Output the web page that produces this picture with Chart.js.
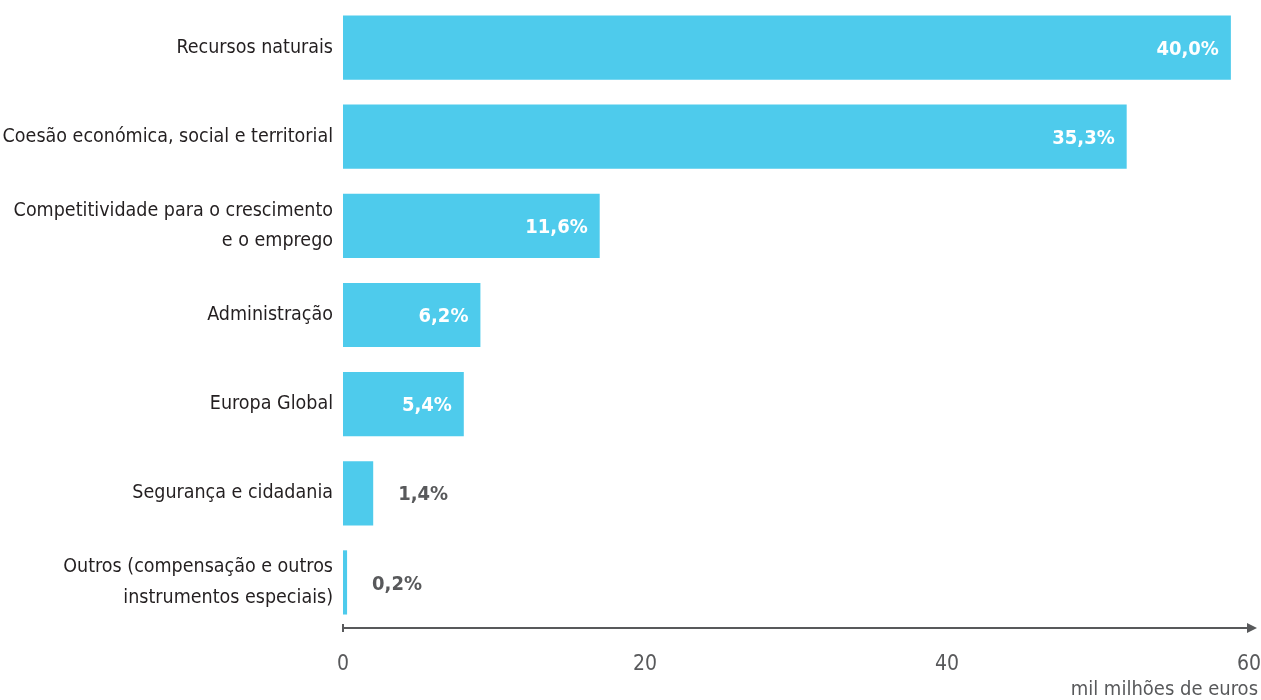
<!DOCTYPE html>
<html>
<head>
<meta charset="utf-8">
<script src="https://cdn.jsdelivr.net/npm/chart.js@4.4.1/dist/chart.umd.min.js"></script>
<style>
html,body{margin:0;padding:0;background:#fff;}
#wrap{width:1261px;height:700px;position:relative;}
</style>
</head>
<body>
<div id="wrap"><canvas id="c"></canvas></div>
<script>
const categories = [
  "Recursos naturais",
  "Coesão económica, social e territorial",
  ["Competitividade para o crescimento", "e o emprego"],
  "Administração",
  "Europa Global",
  "Segurança e cidadania",
  ["Outros (compensação e outros", "instrumentos especiais)"]
];
const values = [58.8, 51.9, 17.0, 9.1, 8.0, 2.0, 0.27];
const shareLabels = ["40,0%", "35,3%", "11,6%", "6,2%", "5,4%", "1,4%", "0,2%"];
const xTicks = [0, 20, 40, 60];
const unitLabel = "mil milhões de euros";

const FONT = "'DejaVu Sans Condensed', 'Liberation Sans Narrow', sans-serif";
const BAR = "#4ecbec";

const decor = {
  id: 'decor',
  afterDatasetsDraw(chart) {
    const ctx = chart.ctx;
    const meta = chart.getDatasetMeta(0);
    const xs = chart.scales.x;
    ctx.save();
    ctx.font = "bold 20px " + FONT;
    ctx.textBaseline = 'middle';
    meta.data.forEach((bar, i) => {
      const w = bar.x - bar.base;
      const txt = shareLabels[i];
      const tw = ctx.measureText(txt).width;
      if (w > tw + 24) {
        ctx.fillStyle = '#ffffff';
        ctx.textAlign = 'right';
        ctx.fillText(txt, bar.x - 12, bar.y + 2);
      } else {
        ctx.fillStyle = '#58595b';
        ctx.textAlign = 'left';
        ctx.fillText(txt, bar.x + 25, bar.y + 2);
      }
    });
    // axis with arrow
    const y = chart.chartArea.bottom + 1;
    const x0 = xs.getPixelForValue(0);
    const xEnd = 1257;
    ctx.strokeStyle = '#58595b';
    ctx.lineWidth = 2;
    ctx.beginPath();
    ctx.moveTo(x0, y);
    ctx.lineTo(xEnd - 6, y);
    ctx.stroke();
    ctx.beginPath();
    ctx.moveTo(x0, y - 4);
    ctx.lineTo(x0, y + 4);
    ctx.stroke();
    ctx.fillStyle = '#58595b';
    ctx.beginPath();
    ctx.moveTo(xEnd, y);
    ctx.lineTo(xEnd - 10, y - 5);
    ctx.lineTo(xEnd - 10, y + 5);
    ctx.closePath();
    ctx.fill();
    // unit label
    ctx.font = "20px " + FONT;
    ctx.textAlign = 'right';
    ctx.textBaseline = 'middle';
    ctx.fillText(unitLabel, 1258, 690);
    ctx.restore();
  }
};

new Chart(document.getElementById('c'), {
  type: 'bar',
  data: {
    labels: categories,
    datasets: [{
      data: values,
      backgroundColor: BAR,
      borderWidth: 0,
      barPercentage: 0.72,
      categoryPercentage: 1.0
    }]
  },
  options: {
    indexAxis: 'y',
    responsive: true,
    maintainAspectRatio: false,
    animation: false,
    layout: { padding: { top: 3, bottom: 0, left: 0, right: 12 } },
    plugins: { legend: { display: false }, tooltip: { enabled: false } },
    scales: {
      x: {
        min: 0, max: 60,
        afterBuildTicks(scale) { scale.ticks = xTicks.map(v => ({ value: v })); },
        afterFit(scale) {
          scale.height = 73;
          scale.paddingLeft = 0; scale.paddingRight = 0;
          scale.paddingTop = 0; scale.paddingBottom = 0;
        },
        grid: { display: false, drawTicks: false },
        border: { display: false },
        ticks: {
          padding: 25,
          color: '#58595b',
          font: { family: FONT, size: 21 },
          maxRotation: 0
        }
      },
      y: {
        afterFit(scale) {
          scale.width = 343;
          scale.paddingLeft = 0; scale.paddingRight = 0;
          scale.paddingTop = 0; scale.paddingBottom = 0;
        },
        grid: { display: false, drawTicks: false },
        border: { display: false },
        ticks: {
          padding: 10,
          color: '#231f20',
          font: { family: FONT, size: 19.5, lineHeight: 1.55 }
        }
      }
    }
  },
  plugins: [decor]
});
</script>
</body>
</html>
